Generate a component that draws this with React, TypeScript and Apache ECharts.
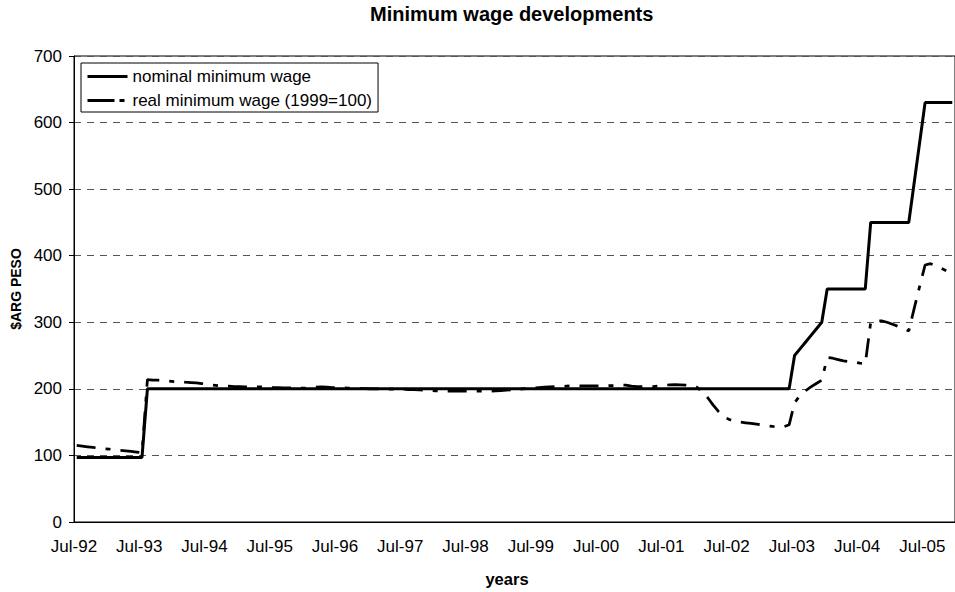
import React, { useEffect, useRef } from "react";
import * as echarts from "echarts";

// Month categories: Jul-92 ... Dec-05 (monthly observations)
const MONTH_NAMES = ["Jan", "Feb", "Mar", "Apr", "May", "Jun", "Jul", "Aug", "Sep", "Oct", "Nov", "Dec"];
const START_YEAR = 1992;
const START_MONTH = 6; // July
const MONTH_COUNT = 162;
const categories: string[] = Array.from({ length: MONTH_COUNT }, (_, i) => {
  const m = (START_MONTH + i) % 12;
  const y = (START_YEAR + Math.floor((START_MONTH + i) / 12)) % 100;
  return `${MONTH_NAMES[m]}-${String(y).padStart(2, "0")}`;
});

// nominal minimum wage ($ARG), one row per Jul..Jun year
const nominalWage: number[] = [
  97, 97, 97, 97, 97, 97, 97, 97, 97, 97, 97, 97,
  97, 200, 200, 200, 200, 200, 200, 200, 200, 200, 200, 200,
  200, 200, 200, 200, 200, 200, 200, 200, 200, 200, 200, 200,
  200, 200, 200, 200, 200, 200, 200, 200, 200, 200, 200, 200,
  200, 200, 200, 200, 200, 200, 200, 200, 200, 200, 200, 200,
  200, 200, 200, 200, 200, 200, 200, 200, 200, 200, 200, 200,
  200, 200, 200, 200, 200, 200, 200, 200, 200, 200, 200, 200,
  200, 200, 200, 200, 200, 200, 200, 200, 200, 200, 200, 200,
  200, 200, 200, 200, 200, 200, 200, 200, 200, 200, 200, 200,
  200, 200, 200, 200, 200, 200, 200, 200, 200, 200, 200, 200,
  200, 200, 200, 200, 200, 200, 200, 200, 200, 200, 200, 200,
  250, 260, 270, 280, 290, 300, 350, 350, 350, 350, 350, 350,
  350, 350, 450, 450, 450, 450, 450, 450, 450, 450, 510, 570,
  630, 630, 630, 630, 630, 630,
];

// real minimum wage (1999=100)
const realWage: number[] = [
  115, 114, 113, 112, 111, 110, 109.5, 108.5, 107.5, 107, 106, 105,
  104, 214, 213, 213, 212, 211.5, 211, 211, 210, 209.5, 209, 208,
  206.5, 205.5, 205, 204.5, 204, 203.5, 203.5, 203, 203, 203, 203, 202.5,
  202, 202, 201.5, 201.5, 201, 201, 201, 202, 202.5, 203, 202.5, 202,
  202, 201.5, 201, 201, 200.5, 200.5, 200, 200, 200, 199.5, 199.5, 199.5,
  199.5, 199, 199, 198.5, 198, 197.5, 197, 196.5, 196.5, 196.5, 196.5, 196.5,
  196.5, 196.5, 196.5, 196.5, 196.5, 197, 197.5, 198, 198.5, 199, 200, 200.5,
  201, 202, 202.5, 203, 203.5, 203.5, 204, 204.5, 204.5, 204.5, 204.5, 204.5,
  204.5, 204.5, 205, 205, 205.5, 205.5, 204, 203.5, 203.5, 203.5, 203.5, 204.5,
  205.5, 206, 206.5, 206, 205.5, 204, 202.5, 196, 187, 176, 166, 158,
  154, 151, 150, 149, 148, 147, 145.5, 144.5, 143.5, 143, 143, 146,
  179, 190, 197, 203, 208, 213, 247, 246, 244, 242, 241, 240,
  238.5, 237.5, 300, 302, 302, 300, 297, 294, 291, 287, 321, 354,
  386, 388, 385, 381, 377, 373,
];

const SERIES_NAMES = ["nominal minimum wage", "real minimum wage (1999=100)"];
const Y_MIN = 0;
const Y_MAX = 700;
const Y_STEP = 100;

const FONT = "'Liberation Sans', Arial, sans-serif";

export default function App() {
  const ref = useRef<HTMLDivElement>(null);

  useEffect(() => {
    if (!ref.current) return;
    const chart = echarts.init(ref.current, null, { renderer: "svg" });
    chart.setOption({
      animation: false,
      backgroundColor: "#ffffff",
      textStyle: { fontFamily: FONT, color: "#000" },
      title: {
        text: "Minimum wage developments",
        left: 370,
        top: 4,
        padding: 0,
        textStyle: { fontFamily: FONT, fontSize: 20, fontWeight: "bold", color: "#000" },
      },
      legend: {
        orient: "vertical",
        left: 81,
        top: 63,
        itemWidth: 40,
        itemHeight: 14,
        itemGap: 7,
        padding: [5, 6, 3, 5],
        borderColor: "#000",
        borderWidth: 1,
        selectedMode: false,
        itemStyle: { opacity: 0 },
        lineStyle: { width: 3, color: "#000" },
        textStyle: { fontFamily: FONT, fontSize: 17, color: "#000" },
        data: [
          { name: SERIES_NAMES[0] },
          { name: SERIES_NAMES[1], lineStyle: { width: 3, color: "#000", type: [27, 5, 5, 5] } },
        ],
      },
      grid: {
        left: 74,
        right: -3,
        top: 56,
        bottom: 69,
        show: true,
        borderColor: "#000",
        borderWidth: 1,
        backgroundColor: "transparent",
      },
      xAxis: {
        type: "category",
        data: categories,
        boundaryGap: true,
        name: "years",
        nameLocation: "middle",
        nameGap: 48,
        nameTextStyle: {
          fontFamily: FONT,
          fontSize: 16.5,
          fontWeight: "bold",
          color: "#000",
          padding: [0, 15, 0, 0],
        },
        axisLine: { lineStyle: { color: "#000", width: 1 } },
        axisTick: { interval: 11, length: 5, alignWithLabel: false, lineStyle: { color: "#000" } },
        axisLabel: {
          interval: 11,
          fontFamily: FONT,
          fontSize: 17,
          color: "#000",
          margin: 16,
          padding: [0, 5.5, 0, 0],
        },
        splitLine: { show: false },
      },
      yAxis: {
        type: "value",
        min: Y_MIN,
        max: Y_MAX,
        interval: Y_STEP,
        name: "$ARG PESO",
        nameLocation: "middle",
        nameGap: 49,
        nameTextStyle: { fontFamily: FONT, fontSize: 14, fontWeight: "bold", color: "#000" },
        axisLine: { show: true, lineStyle: { color: "#000", width: 1 } },
        axisTick: { show: true, length: 5, lineStyle: { color: "#000" } },
        axisLabel: { fontFamily: FONT, fontSize: 17, color: "#000", margin: 12 },
        splitLine: { show: true, lineStyle: { color: "#555", width: 1.2, type: [7, 6] } },
      },
      series: [
        {
          name: SERIES_NAMES[0],
          type: "line",
          data: nominalWage,
          symbol: "none",
          showSymbol: false,
          silent: true,
          lineStyle: { color: "#000", width: 3 },
          itemStyle: { color: "#000" },
          z: 3,
        },
        {
          name: SERIES_NAMES[1],
          type: "line",
          data: realWage,
          symbol: "none",
          showSymbol: false,
          silent: true,
          lineStyle: { color: "#000", width: 2.75, type: [19, 10, 5, 10] },
          itemStyle: { color: "#000" },
          z: 4,
        },
      ],
    });
    return () => chart.dispose();
  }, []);

  return (
    <div
      ref={ref}
      style={{ position: "fixed", left: 0, top: 0, width: 955, height: 592, background: "#fff" }}
    />
  );
}
